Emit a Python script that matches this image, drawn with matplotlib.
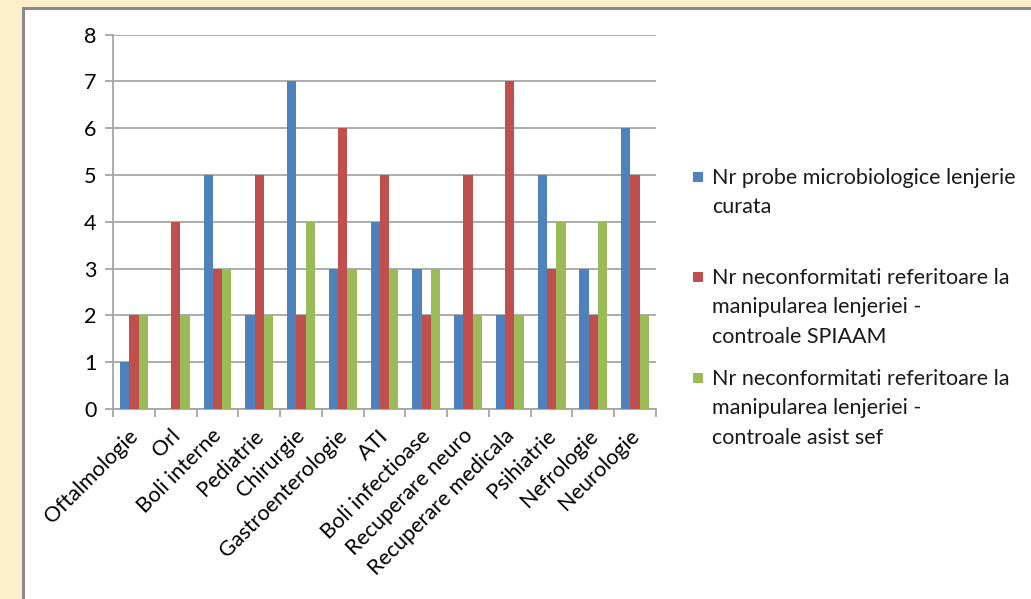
import matplotlib
matplotlib.use("Agg")
import matplotlib.pyplot as plt
import matplotlib.transforms as mtransforms
import numpy as np
from matplotlib.patches import Rectangle

categories = ["Oftalmologie", "Orl", "Boli interne", "Pediatrie", "Chirurgie",
              "Gastroenterologie", "ATI", "Boli infectioase", "Recuperare neuro",
              "Recuperare medicala", "Psihiatrie", "Nefrologie", "Neurologie"]
probe_lenjerie = [1, 0, 5, 2, 7, 3, 4, 3, 2, 2, 5, 3, 6]
neconf_spiaam = [2, 4, 3, 5, 2, 6, 5, 2, 5, 7, 3, 2, 5]
neconf_asist = [2, 2, 3, 2, 4, 3, 3, 3, 2, 2, 4, 4, 2]
series_labels = ["Nr probe microbiologice lenjerie\ncurata",
                 "Nr neconformitati referitoare la\nmanipularea lenjeriei -\ncontroale SPIAAM",
                 "Nr neconformitati referitoare la\nmanipularea lenjeriei -\ncontroale asist sef"]
colors = ["#4F81BD", "#C0504D", "#9BBB59"]

plt.rcParams["font.family"] = ["Lato", "DejaVu Sans"]
FS = 15.5

W, H = 1031, 599
fig = plt.figure(figsize=(W / 100, H / 100), dpi=100)
fig.patch.set_facecolor("#FDEFCB")

# white chart panel with grey frame
panel = Rectangle((23 / W, -0.05), 1.1, 1 - 8 / H + 0.05, transform=fig.transFigure,
                  facecolor="white", edgecolor="#8A8A8A", linewidth=2.2, zorder=-10)
fig.patches.append(panel)

ax = fig.add_axes([113 / W, 1 - 409 / H, (656 - 113) / W, (409 - 34.7) / H])
ax.set_facecolor("none")

x = np.arange(len(categories))
bw = 1 / 4.5
for i, (vals, c) in enumerate(zip([probe_lenjerie, neconf_spiaam, neconf_asist], colors)):
    ax.bar(x + (i - 1) * bw, vals, width=bw, color=c, zorder=3)

ax.set_xlim(-0.5, len(categories) - 0.5)
ax.set_ylim(0, 8)
ax.set_yticks(range(0, 9))
ax.yaxis.grid(True, color="#A6A6A6", linewidth=1.3, zorder=0)
ax.set_axisbelow(True)

ax.set_xticks(np.arange(-0.5, len(categories), 1))
ax.set_xticklabels([])
ax.set_xticks(x, minor=True)
ax.set_xticklabels(categories, minor=True, rotation=45, ha="right",
                   rotation_mode="anchor", fontsize=FS)
ax.tick_params(axis="x", which="major", length=6, color="#A6A6A6", width=1.3)
ax.tick_params(axis="x", which="minor", length=0, pad=12)
ax.tick_params(axis="y", length=6, color="#A6A6A6", width=1.3, labelsize=FS, pad=6)

# nudge the rotated category labels slightly to the left
shift = mtransforms.ScaledTranslation(-6 / 100, 0, fig.dpi_scale_trans)
for lbl in ax.get_xticklabels(minor=True):
    lbl.set_transform(lbl.get_transform() + shift)

for s in ["top", "right"]:
    ax.spines[s].set_visible(False)
for s in ["left", "bottom"]:
    ax.spines[s].set_color("#A6A6A6")
    ax.spines[s].set_linewidth(1.3)

# legend drawn as marker squares plus multi-line text
legend_tops = [177, 277, 378]
for top, lab, c in zip(legend_tops, series_labels, colors):
    fig.patches.append(Rectangle((693 / W, 1 - (top + 5) / H), 10 / W, 10 / H,
                                 transform=fig.transFigure, facecolor=c,
                                 edgecolor="none", zorder=5))
    fig.text(712 / W, 1 - (top - 9) / H, lab, fontsize=FS, va="top", ha="left",
             linespacing=1.58, color="#1A1A1A")

fig.savefig("out.png", dpi=100)
